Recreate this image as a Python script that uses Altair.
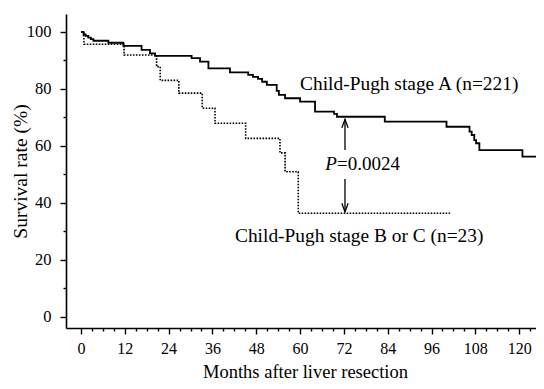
import altair as alt
import pandas as pd

# Child-Pugh stage A (n=221): Kaplan-Meier steps (month, survival %)
a_month = [0, 0.7, 1.3, 2.0, 2.7, 3.4, 7.5, 11.6, 16.6, 18.9, 20.3, 30.3, 32.6, 34.9,
           40.8, 45.8, 47.1, 48.5, 49.6, 50.9, 53.6, 54.2, 55.9, 60.0, 64.1, 69.3,
           70.1, 83.2, 100.1, 106.4, 107.0, 107.7, 108.2, 109.1, 120.9, 127.0]
a_surv = [100, 99.1, 98.6, 98.0, 97.5, 96.9, 96.2, 95.1, 93.7, 92.5, 91.6, 90.8, 89.6, 87.2,
          85.8, 84.9, 84.2, 83.5, 82.5, 81.4, 79.3, 77.9, 76.7, 75.5, 72.0, 71.2,
          70.2, 68.5, 66.7, 65.0, 63.8, 62.0, 60.9, 58.5, 56.2, 56.2]

# Child-Pugh stage B or C (n=23)
bc_month = [0, 0.8, 11.8, 20.7, 21.7, 26.8, 33.2, 36.7, 45.1, 54.5, 55.9, 59.5, 101.1]
bc_surv = [100, 95.7, 91.9, 87.8, 83.0, 78.5, 73.2, 67.9, 62.6, 57.5, 50.9, 36.3, 36.3]

x_ticks = list(range(0, 127, 3))
y_ticks = list(range(0, 101, 10))

# annotations
arrow_month = [72.3, 72.3]
arrow_from = [58.5, 48.3]
arrow_to = [69.3, 36.8]
label_a = "Child-Pugh stage A (n=221)"
label_bc = "Child-Pugh stage B or C (n=23)"
p_italic = "P"
p_rest = "=0.0024"

FONT = "Liberation Serif"

df_a = pd.DataFrame({"month": a_month, "surv": a_surv})
df_bc = pd.DataFrame({"month": bc_month, "surv": bc_surv})
df_arrow = pd.DataFrame({"month": arrow_month, "surv": arrow_from, "surv2": arrow_to})
df_up = pd.DataFrame({"month": [arrow_month[0]], "surv": [arrow_to[0]]})
df_down = pd.DataFrame({"month": [arrow_month[1]], "surv": [arrow_to[1]]})

xscale = alt.Scale(domain=[-4.1, 126.8], nice=False, zero=False)
yscale = alt.Scale(domain=[-4.0, 106.3], nice=False, zero=False)

xaxis = alt.Axis(
    values=x_ticks,
    labelExpr="datum.value % 12 === 0 ? datum.label : ''",
    tickSize={"condition": {"test": "datum.value % 12 === 0", "value": 6}, "value": 3},
    title="Months after liver resection",
    labelFont=FONT,
    labelFontSize=16,
    titleFont=FONT,
    titleFontSize=18.5,
    titleBaseline="alphabetic",
    titleY=49,
    labelPadding=6,
    labelFlush=False,
    labelOverlap=False,
)
yaxis = alt.Axis(
    values=y_ticks,
    labelExpr="datum.value % 20 === 0 ? datum.label : ''",
    tickSize={"condition": {"test": "datum.value % 20 === 0", "value": 6}, "value": 3},
    title="Survival rate (%)",
    labelFont=FONT,
    labelFontSize=16.5,
    titleFont=FONT,
    titleFontSize=19.5,
    titleBaseline="middle",
    titleX=-46,
    labelPadding=9,
    labelFlush=False,
    labelOverlap=False,
)

X = alt.X("month:Q", scale=xscale, axis=xaxis)
Y = alt.Y("surv:Q", scale=yscale, axis=yaxis)

line_a = alt.Chart(df_a).mark_line(
    interpolate="step-after", color="black", strokeWidth=1.8, clip=True
).encode(x=X, y=Y)

line_bc = alt.Chart(df_bc).mark_line(
    interpolate="step-after", color="black", strokeWidth=1.6, strokeDash=[1.6, 1.4], clip=True
).encode(x=X, y=Y)

rules = alt.Chart(df_arrow).mark_rule(color="black", strokeWidth=1.3).encode(
    x=X, y=Y, y2="surv2:Q"
)

head_up = alt.Chart(df_up).mark_point(
    shape="M-0.55,1.5L0,0L0.55,1.5", filled=False, color="black", strokeWidth=1.3, size=130, opacity=1
).encode(x=X, y=Y)
head_down = alt.Chart(df_down).mark_point(
    shape="M-0.55,-1.5L0,0L0.55,-1.5", filled=False, color="black", strokeWidth=1.3, size=130, opacity=1
).encode(x=X, y=Y)

df_texts = pd.DataFrame({"month": [89.9, 76.2], "surv": [81.7, 28.3], "txt": [label_a, label_bc]})
texts = alt.Chart(df_texts).mark_text(
    font=FONT, fontSize=19.4, color="black", align="center", baseline="middle"
).encode(x=X, y=Y, text="txt:N")

df_p = pd.DataFrame({"month": [70.1], "surv": [53.6], "txt": [p_italic]})
df_pr = pd.DataFrame({"month": [70.1], "surv": [53.6], "txt": [p_rest]})
p_text = alt.Chart(df_p).mark_text(
    font=FONT, fontSize=19, fontStyle="italic", color="black", align="right", baseline="middle"
).encode(x=X, y=Y, text="txt:N")
pr_text = alt.Chart(df_pr).mark_text(
    font=FONT, fontSize=19, color="black", align="left", baseline="middle"
).encode(x=X, y=Y, text="txt:N")

chart = alt.layer(
    line_a, line_bc, rules, head_up, head_down, texts, p_text, pr_text
).properties(
    width=478,
    height=314,
    autosize=alt.AutoSizeParams(type="none"),
    padding={"left": 58, "top": 6, "right": -8, "bottom": 53},
    background="white",
).configure_view(stroke=None).configure_axis(
    grid=False,
    domainColor="black",
    domainWidth=1.6,
    tickColor="black",
    tickWidth=1.4,
    labelFont=FONT,
    labelColor="black",
    titleFont=FONT,
    titleFontWeight="normal",
    titleColor="black",
).configure_text(font=FONT)

chart.save("out.html", embed_options={"renderer": "svg", "actions": False})
